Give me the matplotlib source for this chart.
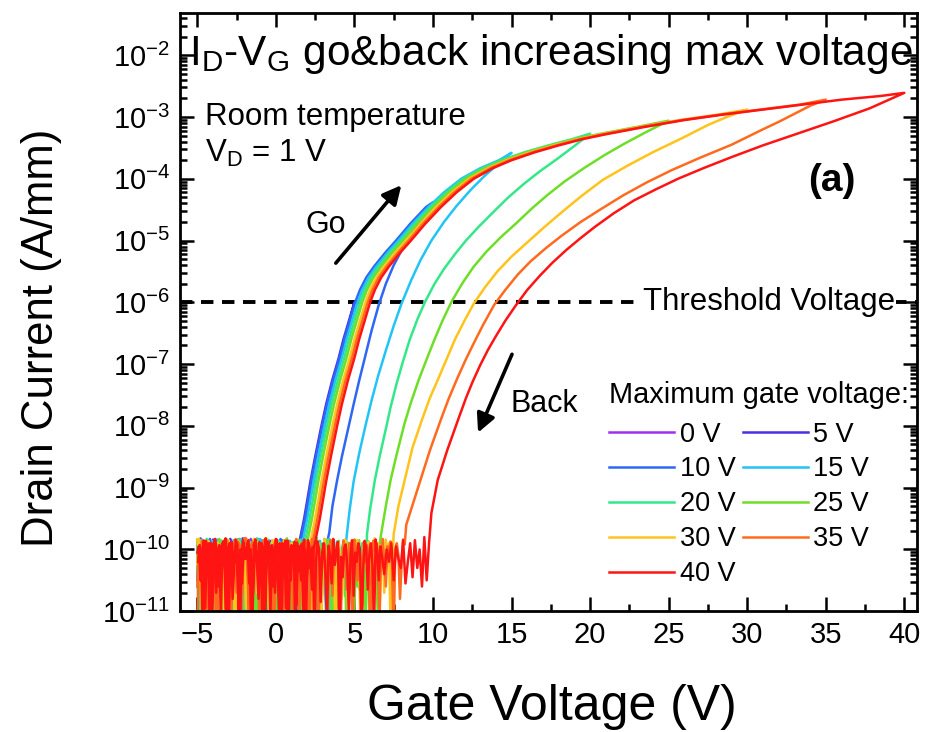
import numpy as np
import matplotlib
matplotlib.use("Agg")
import matplotlib.pyplot as plt
from matplotlib.ticker import MultipleLocator, LogLocator, NullFormatter

plt.rcParams["font.family"] = ["Liberation Sans", "DejaVu Sans"]
plt.rcParams["mathtext.fontset"] = "custom"
plt.rcParams["mathtext.rm"] = "Liberation Sans"
plt.rcParams["mathtext.it"] = "Liberation Sans:italic"
plt.rcParams["mathtext.bf"] = "Liberation Sans:bold"

# maximum gate voltage of each go&back sweep (V)
VMAX = [0, 5, 10, 15, 20, 25, 30, 35, 40]
LABELS = ["0 V", "5 V", "10 V", "15 V", "20 V", "25 V", "30 V", "35 V", "40 V"]
COLORS = ["#a030f0", "#4a2fe6", "#2f66f4", "#22c4f6", "#34e88a",
          "#6ede28", "#ffc31c", "#ff6a1e", "#ff1414"]

# go sweep above the noise floor: gate voltage and log10(I_D)
GO_V = [1.4, 1.6, 1.8, 2.0, 2.2, 2.5, 2.9, 3.2, 3.6, 4.0, 4.3, 4.65, 5.0,
        5.3, 5.7, 6.2, 6.9, 7.6, 8.5, 9.5, 10.5, 11.6, 12.8, 14.0, 15.5,
        17.0, 18.5, 20.0, 22.5, 25.0, 27.5, 30.0, 32.5, 35.0, 37.5, 40.0]
GO_LOG = [-10.0, -9.75, -9.5, -9.2, -8.9, -8.5, -8.0, -7.65, -7.25, -6.9,
          -6.6, -6.3, -6.0, -5.8, -5.6, -5.42, -5.2, -5.0, -4.73, -4.46,
          -4.22, -4.0, -3.83, -3.7, -3.57, -3.46, -3.36, -3.28, -3.16, -3.05,
          -2.96, -2.88, -2.8, -2.72, -2.66, -2.6]
# small rightward drift of the go curve from sweep to sweep
GO_SHIFT = [0.0, 0.0, 0.05, 0.2, 0.35, 0.5, 0.7, 0.85, 1.0]

# back sweeps, listed from the noise floor up to the maximum voltage
BACK_V = [
    [],
    [1.6, 1.9, 2.4, 3.1, 3.8, 4.4, 5.0],
    [3.4, 3.6, 3.9, 4.2, 4.6, 4.95, 5.3, 5.7, 6.1, 6.55, 7.0, 7.5, 8.0, 8.5,
     9.0, 9.5, 10.0],
    [4.5, 4.7, 4.95, 5.3, 5.7, 6.1, 6.5, 7.0, 7.5, 8.0, 8.6, 9.2, 9.9, 10.7,
     11.5, 12.4, 13.3, 14.2, 15.0],
    [5.8, 6.0, 6.3, 6.6, 7.0, 7.3, 7.7, 8.1, 8.5, 9.0, 9.5, 10.1, 10.7, 11.4,
     12.1, 12.9, 13.8, 14.8, 15.8, 16.8, 17.9, 19.0, 20.0],
    [6.7, 7.0, 7.3, 7.7, 8.2, 8.6, 9.1, 9.6, 10.1, 10.6, 11.2, 11.9, 12.6,
     13.4, 14.3, 15.3, 16.3, 17.3, 18.4, 19.6, 20.9, 22.2, 23.6, 25.0],
    [7.5, 7.8, 8.2, 8.7, 9.3, 9.8, 10.4, 10.9, 11.4, 12.0, 12.6, 13.3, 14.1,
     15.0, 16.0, 17.1, 18.3, 19.5, 20.8, 22.3, 24.0, 25.8, 27.5, 28.8, 30.0],
    [8.3, 8.8, 9.2, 9.8, 10.5, 11.0, 11.6, 12.1, 12.6, 13.2, 13.9, 14.6,
     15.4, 16.2, 17.2, 18.2, 19.4, 20.7, 22.1, 23.6, 25.2, 27.0, 29.0, 31.0,
     32.0, 33.0, 34.0, 35.0],
    [6.75, 6.9, 7.05, 7.2, 7.35, 7.5, 7.65, 7.8, 7.95, 8.1, 8.25, 8.4, 8.55,
     8.7, 8.85, 9.0, 9.15, 9.3, 9.45, 9.6, 9.75, 9.9, 10.3, 10.9, 11.6, 12.1,
     12.5, 13.0, 13.5, 14.0, 14.6, 15.3, 16.0, 16.8, 17.6, 18.5, 19.4, 20.3,
     21.5, 22.8, 24.2, 25.6, 27.2, 29.0, 31.0, 33.2, 35.5, 37.8, 40.0],
]
BACK_LOG = [
    [],
    [-9.9, -9.5, -8.9, -8.0, -7.2, -6.6, -6.0],
    [-9.73, -9.3, -8.88, -8.5, -8.05, -7.65, -7.27, -6.86, -6.45, -6.04,
     -5.7, -5.4, -5.16, -4.95, -4.76, -4.57, -4.38],
    [-9.8, -9.35, -8.9, -8.45, -8.0, -7.58, -7.2, -6.78, -6.38, -6.02, -5.65,
     -5.32, -5.0, -4.7, -4.44, -4.18, -3.95, -3.75, -3.58],
    [-9.75, -9.35, -8.88, -8.5, -8.05, -7.7, -7.3, -6.95, -6.62, -6.28,
     -5.99, -5.7, -5.46, -5.22, -5.0, -4.78, -4.55, -4.3, -4.08, -3.88,
     -3.68, -3.47, -3.27],
    [-9.75, -9.3, -8.88, -8.45, -7.95, -7.62, -7.25, -6.92, -6.6, -6.3,
     -5.98, -5.68, -5.42, -5.18, -4.95, -4.72, -4.48, -4.26, -4.04, -3.83,
     -3.62, -3.43, -3.24, -3.06],
    [-9.75, -9.3, -8.88, -8.35, -7.9, -7.55, -7.2, -6.9, -6.6, -6.3, -6.02,
     -5.76, -5.5, -5.26, -5.03, -4.78, -4.52, -4.27, -4.02, -3.8, -3.57,
     -3.35, -3.13, -2.99, -2.88],
    [-9.6, -9.2, -8.88, -8.4, -7.9, -7.56, -7.2, -6.92, -6.66, -6.36, -6.04,
     -5.8, -5.55, -5.34, -5.12, -4.92, -4.7, -4.49, -4.27, -4.06, -3.86,
     -3.66, -3.45, -3.2, -3.08, -2.95, -2.82, -2.72],
    [-10.1, -10.4, -10.0, -10.2, -9.9, -10.5, -9.95, -10.15, -10.3, -9.85,
     -10.55, -10.2, -9.9, -10.45, -9.85, -10.3, -10.0, -10.6, -9.8, -10.5,
     -9.9, -9.41, -8.88, -8.4, -7.9, -7.55, -7.3, -7.02, -6.77, -6.55, -6.3,
     -6.04, -5.8, -5.57, -5.36, -5.15, -4.96, -4.78, -4.56, -4.35, -4.17,
     -4.0, -3.83, -3.65, -3.46, -3.27, -3.07, -2.86, -2.61],
]

# measured noise floor, log10(I_D), one value per sweep step
NOISE = [-9.9, -10.1, -9.82, -10.4, -11.2, -10.0, -9.88, -10.3, -10.05, -9.95,
         -10.7, -11.6, -10.2, -9.85, -10.0, -10.15, -9.9, -10.55, -10.0, -11.0,
         -9.92, -9.84, -10.25, -10.8, -10.1, -9.9, -10.0, -11.4, -10.35, -9.87,
         -10.05, -9.95, -10.6, -10.2, -9.83, -10.1, -11.1, -10.45, -9.9, -10.0,
         -9.86, -10.3, -11.75, -10.05, -9.93, -10.2, -9.88, -10.9, -10.15,
         -9.95, -10.5, -10.0, -9.84, -11.3, -10.25, -9.9, -10.1, -10.65, -9.97,
         -9.86, -10.35, -11.5, -10.0, -9.9, -10.2, -10.05, -10.75, -9.85, -10.1,
         -11.05, -10.3, -9.92, -9.98, -10.45, -10.12, -11.65, -9.88, -10.0,
         -10.25, -9.83, -10.55, -10.1, -9.94, -11.2, -10.4, -9.9, -10.05,
         -10.85, -10.0, -9.87, -10.2, -11.45, -9.96, -10.1, -10.3, -9.85,
         -10.6, -10.0, -11.0, -9.91, -10.15, -10.35, -9.89, -11.55, -10.05,
         -9.95, -10.5, -10.2, -9.86, -10.95, -10.0, -10.25, -11.3, -9.9, -10.1,
         -9.84, -10.7, -10.05, -9.93, -11.1]
NOISE_STEP = 0.1
V_START = -5.0

fig = plt.figure(figsize=(9.28, 7.32), dpi=100)
ax = fig.add_axes([0.194, 0.165, 0.794, 0.817])


def noise_run(v_from, v_to, offset):
    """Noise floor points from v_from to v_to in sweep steps."""
    step = NOISE_STEP if v_to > v_from else -NOISE_STEP
    vs = np.arange(v_from, v_to + step * 0.01, step)
    logs = [NOISE[(k + offset) % len(NOISE)] for k in range(len(vs))]
    return list(vs), logs


lines = []
for i, vm in enumerate(VMAX):
    shift = GO_SHIFT[i]
    go_v = [v + shift for v in GO_V if v + shift <= vm]
    go_l = [l for v, l in zip(GO_V, GO_LOG) if v + shift <= vm]
    onset = GO_V[0] + shift - NOISE_STEP
    nv, nl = noise_run(V_START, min(onset, vm), 13 * i)
    v = nv + go_v
    lg = nl + go_l

    # back sweep runs from the maximum voltage down
    bv, bl = BACK_V[i][::-1], BACK_LOG[i][::-1]
    v += bv
    lg += bl
    last = bv[-1] if bv else vm
    nv, nl = noise_run(last - NOISE_STEP, V_START, 29 * i + 57)
    v += nv
    lg += nl

    (ln,) = ax.plot(v, 10.0 ** np.array(lg), color=COLORS[i], lw=1.8,
                    label=LABELS[i])
    lines.append(ln)

ax.axhline(1e-6, color="k", lw=2.8, dashes=(3.2, 2.2), zorder=1)

ax.set_yscale("log")
ax.set_xlim(-6.1, 40.8)
ax.set_ylim(1e-11, 10 ** -1.32)
ax.xaxis.set_major_locator(MultipleLocator(5))
ax.xaxis.set_minor_locator(MultipleLocator(2.5))
ax.yaxis.set_major_locator(LogLocator(base=10, numticks=20))
ax.yaxis.set_minor_locator(LogLocator(base=10, subs=np.arange(2, 10),
                                      numticks=20))
ax.yaxis.set_minor_formatter(NullFormatter())
ax.tick_params(which="both", direction="in", top=True, right=True,
               labelsize=21, width=1.8)
ax.tick_params(which="major", length=10, pad=7)
ax.tick_params(which="minor", length=5)
for sp in ax.spines.values():
    sp.set_linewidth(2)

ax.set_xlabel("Gate Voltage (V)", fontsize=36)
ax.xaxis.set_label_coords(0.505, -0.122)
ax.set_ylabel("Drain Current (A/mm)", fontsize=31.5)
ax.yaxis.set_label_coords(-0.16, 0.458)

ax.text(0.012, 0.932, r"I$_\mathregular{D}$-V$_\mathregular{G}$ go&back increasing max voltage",
        transform=ax.transAxes, fontsize=30.5, va="center", ha="left")
ax.text(0.034, 0.826, "Room temperature", transform=ax.transAxes,
        fontsize=22.5, va="center")
ax.text(0.034, 0.766, r"V$_\mathregular{D}$ = 1 V", transform=ax.transAxes,
        fontsize=22.5, va="center")
ax.text(0.885, 0.72, "(a)", transform=ax.transAxes, fontsize=28,
        fontweight="bold", ha="center", va="center")
ax.text(0.198, 0.645, "Go", transform=ax.transAxes, fontsize=22,
        ha="center", va="center")
ax.text(0.495, 0.346, "Back", transform=ax.transAxes, fontsize=22,
        ha="center", va="center")
ax.text(39.4, 1e-6, "Threshold Voltage", fontsize=22.5, ha="right",
        va="center", zorder=2,
        bbox=dict(facecolor="white", edgecolor="none", pad=1))

arrow = dict(arrowstyle="-|>", color="k", lw=2.6, mutation_scale=28)
ax.annotate("", xy=(8.1, 10 ** -4.07), xytext=(3.7, 10 ** -5.4),
            arrowprops=arrow)
ax.annotate("", xy=(12.8, 10 ** -8.15), xytext=(15.1, 10 ** -6.8),
            arrowprops=arrow)

order = [0, 2, 4, 6, 8, 1, 3, 5, 7]
leg = ax.legend([lines[k] for k in order], [LABELS[k] for k in order],
                ncol=2, frameon=False, fontsize=19.5,
                title="Maximum gate voltage:", title_fontsize=20.9,
                loc="lower right", bbox_to_anchor=(0.99, 0.04),
                handlelength=2.4, handletextpad=0.2, columnspacing=0.25,
                labelspacing=0.33, borderpad=0.0, borderaxespad=0.0)
leg._legend_box.align = "left"
leg._legend_box.sep = 9

fig.savefig("out.png", dpi=100)
